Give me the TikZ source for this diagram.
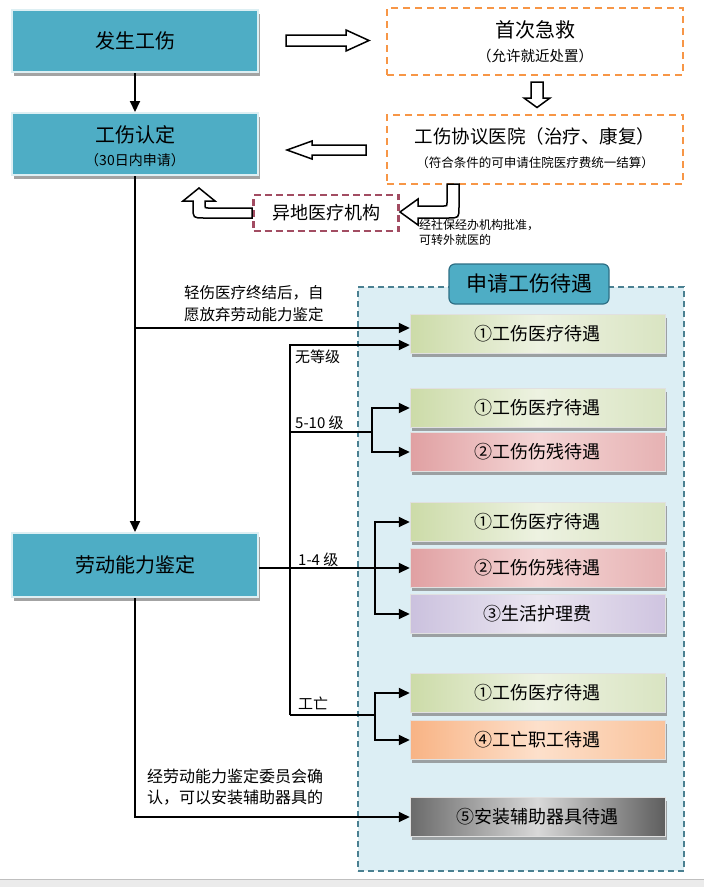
\documentclass[tikz,border=0pt]{standalone}
\usepackage{fontspec}
\setmainfont{Noto Sans CJK SC}
\usetikzlibrary{arrows.meta,shadows,calc}
\definecolor{tealc}{HTML}{4EADC5}
\definecolor{tealframe}{HTML}{DDEFF3}
\definecolor{orangedash}{HTML}{F79646}
\definecolor{maroondash}{HTML}{A24C62}
\definecolor{regfill}{HTML}{DCEEF4}
\definecolor{regdraw}{HTML}{4A8091}
\definecolor{titledraw}{HTML}{2E6F85}
\newcommand\fsz[1]{\fontsize{#1pt}{#1pt}\selectfont}
\newcommand\lpr{\makebox[1em][r]{（}}
\newcommand\rpr{\makebox[1em][l]{）}}
\tikzset{
  tealbox/.style={fill=tealc, draw=tealframe, line width=2pt, minimum width=246pt, minimum height=62pt, inner sep=0pt,
    drop shadow={shadow xshift=2pt, shadow yshift=-4pt, fill=black!45, opacity=.8}},
  orangebox/.style={draw=orangedash, line width=2pt, dash pattern=on 7pt off 5pt, fill=white, minimum width=296pt, inner sep=0pt},
  maroonbox/.style={draw=maroondash, line width=2.5pt, dash pattern=on 7pt off 4pt, fill=white, minimum width=145pt, minimum height=36pt, inner sep=0pt, font=\fsz{18}},
  tbox/.style={minimum width=255pt, minimum height=39pt, inner sep=0pt, font=\fsz{18}, draw=black!12, line width=.5pt,
    drop shadow={shadow xshift=1.5pt, shadow yshift=-3pt, fill=black!50, opacity=.7}},
  greenb/.style={tbox, left color=green1, right color=green3, middle color=green2},
  redb/.style={tbox, left color=red1, right color=red3, middle color=red2},
  purpleb/.style={tbox, left color=purple1, right color=purple3, middle color=purple2},
  orangeb/.style={tbox, left color=orange1, right color=orange3, middle color=orange2},
  greyb/.style={tbox, left color=grey1, right color=grey3, middle color=grey2},
  hollow/.style={draw=black, fill=white, line width=1.5pt, line join=miter},
  arr/.style={draw=black, line width=2pt, -{Triangle[length=11pt,width=10pt]}},
  ln/.style={draw=black, line width=2pt},
  lbl/.style={inner sep=0pt, font=\fsz{15}},
}
\definecolor{green1}{HTML}{CCDBA8}
\definecolor{green2}{HTML}{EDF2E1}
\definecolor{green3}{HTML}{D9E4C2}
\definecolor{red1}{HTML}{E0A0A2}
\definecolor{red2}{HTML}{F4D5D5}
\definecolor{red3}{HTML}{E6B2B3}
\definecolor{purple1}{HTML}{CBC1DE}
\definecolor{purple2}{HTML}{EAE6F0}
\definecolor{purple3}{HTML}{CFC4E0}
\definecolor{orange1}{HTML}{F8B384}
\definecolor{orange2}{HTML}{FDE0CB}
\definecolor{orange3}{HTML}{F9C39C}
\definecolor{grey1}{HTML}{6A6A6A}
\definecolor{grey2}{HTML}{D8D8D8}
\definecolor{grey3}{HTML}{5E5E5E}
\begin{document}
\begin{tikzpicture}[x=1pt,y=-1pt]
\fill[white] (0,0) rectangle (704,887);
\useasboundingbox (0,0) rectangle (704,887);
\fill[black!8] (0,879) rectangle (704,887);
\draw[black!25, line width=.8pt] (0,879.5) -- (704,879.5);

% left column boxes
\node[tealbox, font=\fsz{20}] (inj) at (135,41) {发生工伤};
\node[tealbox] (ident) at (135,144) {};
\node[font=\fsz{20}, inner sep=0pt] (identT) at (135,135) {工伤认定};
\node[font=\fsz{14}, inner sep=0pt] (identS) at (135,160) {\lpr 30日内申请\rpr};
\node[tealbox, minimum height=64pt, font=\fsz{20}] (labor) at (135,565) {劳动能力鉴定};

% right column dashed boxes
\node[orangebox, minimum height=67pt] (aid) at (535,41.5) {};
\node[font=\fsz{20}, inner sep=0pt] (aidT) at (535,30) {首次急救};
\node[font=\fsz{14.5}, inner sep=0pt] (aidS) at (535,56) {\lpr 允许就近处置\rpr};
\node[orangebox, minimum height=69pt] (hosp) at (535,149.5) {};
\node[font=\fsz{18.5}, inner sep=0pt] (hospT) at (535,136) {工伤协议医院\lpr 治疗、康复\rpr};
\node[font=\fsz{12.5}, inner sep=0pt] (hospS) at (535,163) {\lpr 符合条件的可申请住院医疗费统一结算\rpr};
\node[maroonbox] (remote) at (326,213) {异地医疗机构};
\node[font=\fontsize{12pt}{15pt}\selectfont, align=left, anchor=west, inner sep=0pt] (remoteN) at (419,232)
  {经社保经办机构批准，\\可转外就医的};

% hollow block arrows
\draw[hollow] (286,35) -- (346,35) -- (346,30) -- (369,40.5) -- (346,51) -- (346,46) -- (286,46) -- cycle;
\draw[hollow] (531,82) -- (543,82) -- (543,98) -- (550,98) -- (537,107.5) -- (524,98) -- (531,98) -- cycle;
\draw[hollow] (366,145) -- (312,145) -- (312,141) -- (287,150) -- (312,159) -- (312,155) -- (366,155) -- cycle;
\draw[hollow] (447,184) -- (459,184) -- (459,207) .. controls (459,218) .. (448,218) -- (418,218) -- (418,225)
  -- (400,212) -- (418,199) -- (418,206) -- (444,206) .. controls (447,206) .. (447,203) -- cycle;
\draw[hollow] (252,208) -- (252,218) -- (204,218) .. controls (193,218) .. (193,207) -- (193,201) -- (183,201)
  -- (199,188) -- (215,201) -- (205,201) -- (205,205) .. controls (205,208) .. (208,208) -- cycle;

% region of benefits
\node[draw=regdraw, fill=regfill, line width=1.5pt, dash pattern=on 6pt off 4pt, minimum width=326pt, minimum height=584pt, inner sep=0pt] (reg) at (521,579) {};
\node[fill=tealc, draw=titledraw, line width=1.2pt, rounded corners=6pt, minimum width=160pt, minimum height=40pt, inner sep=0pt, font=\fsz{21}] (title) at (529,284) {申请工伤待遇};

% benefit boxes
\node[greenb] (t1) at (537.5,334) {①工伤医疗待遇};
\node[greenb] (t2) at (537.5,408) {①工伤医疗待遇};
\node[redb] (t3) at (537.5,452) {②工伤伤残待遇};
\node[greenb] (t4) at (537.5,522) {①工伤医疗待遇};
\node[redb] (t5) at (537.5,568) {②工伤伤残待遇};
\node[purpleb] (t6) at (537.5,614) {③生活护理费};
\node[greenb] (t7) at (537.5,693) {①工伤医疗待遇};
\node[orangeb] (t8) at (537.5,740) {④工亡职工待遇};
\node[greyb] (t9) at (537.5,817) {⑤安装辅助器具待遇};

% connectors
\draw[arr] (inj.south) -- (ident.north);
\draw[arr] (ident.south) -- (labor.north);
\coordinate (m1) at (135,328);
\draw[arr] (m1) -- (m1 -| t1.west);
\coordinate (v2top) at (290,345);
\coordinate (v2bot) at (290,715);
\draw[arr] (v2bot) -- (v2top) -- (v2top -| t1.west);
\coordinate (b1) at (290,432);
\coordinate (b1x) at (372,432);
\draw[ln] (b1) -- (b1x);
\draw[arr] (b1x) |- (t2.west);
\draw[arr] (b1x) |- (t3.west);
\draw[arr] (labor.east |- t5.west) -- (t5.west);
\coordinate (b2) at (375,568);
\draw[arr] (b2) |- (t4.west);
\draw[arr] (b2) |- (t6.west);
\coordinate (b3) at (375,715);
\draw[ln] (v2bot) -- (b3);
\draw[arr] (b3) |- (t7.west);
\draw[arr] (b3) |- (t8.west);
\draw[arr] (labor.south) |- (t9.west);

% labels
\node[font=\fontsize{15.5pt}{22pt}\selectfont, inner sep=0pt, align=left, anchor=west] (n1) at (184,304)
  {轻伤医疗终结后，自\\愿放弃劳动能力鉴定};
\node[lbl, anchor=west] (l1) at (295,357) {无等级};
\node[lbl, anchor=west] (l2) at (295,423) {5-10 级};
\node[lbl, anchor=west] (l3) at (298,560) {1-4 级};
\node[lbl, anchor=west] (l4) at (298,703) {工亡};
\node[font=\fontsize{16pt}{21pt}\selectfont, inner sep=0pt, align=left, anchor=west] (n2) at (147,787)
  {经劳动能力鉴定委员会确\\认，可以安装辅助器具的};
\end{tikzpicture}
\end{document}
